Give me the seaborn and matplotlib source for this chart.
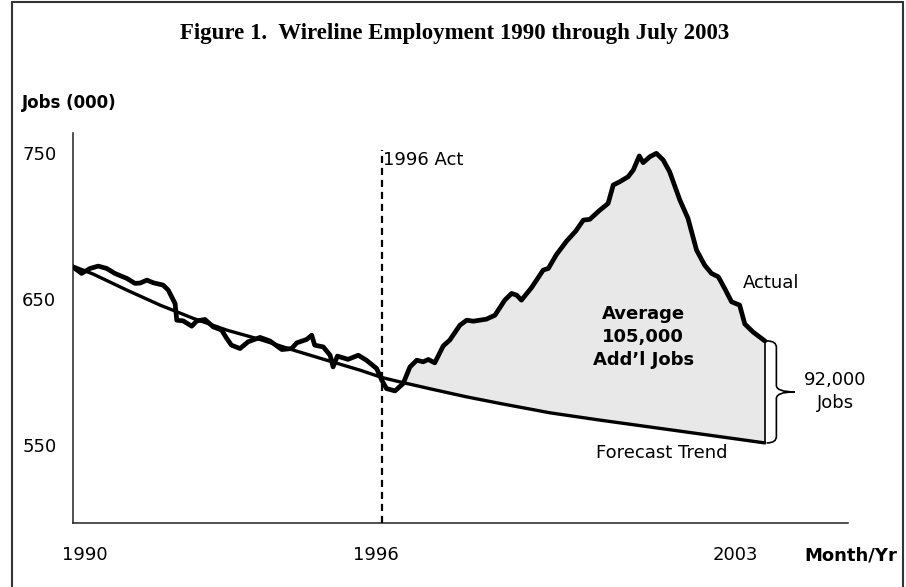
import numpy as np
import pandas as pd
import matplotlib
matplotlib.use("Agg")
import matplotlib.pyplot as plt
from matplotlib.path import Path
from matplotlib.patches import PathPatch
import seaborn as sns

# ---- data (months since Jan 1990, jobs in thousands) ----
actual_month = [0, 2.0, 4.0, 5.9, 7.9, 9.8, 12.6, 14.5, 15.7, 17.3, 18.8, 21.1, 22.3, 23.1,
                23.9, 24.3, 25.8, 27.8, 29.0, 30.9, 32.8, 34.8, 36.0, 37.1, 39.1, 41.0,
                43.8, 46.1, 48.9, 51.2, 52.4, 54.7, 55.9, 56.6, 58.6, 60.2, 60.9, 61.9,
                64.4, 66.8, 68.7, 71.1, 72.3, 73.4, 75.4, 77.3, 78.9, 80.5, 82.0, 83.2,
                84.7, 86.7, 88.2, 90.6, 92.2, 93.7, 96.8, 98.8, 101.1, 102.7, 103.9, 105.0,
                107.4, 110.1, 111.3, 113.2, 115.6, 117.7, 119.5, 121.0, 123.4, 125.3,
                126.5, 128.0, 130.0, 131.2, 132.6, 133.5, 135.1, 136.6, 138.2, 139.7,
                142.1, 144.0, 146.0, 147.9, 149.5, 151.1, 152.6, 154.2, 156.1, 157.3,
                159.2, 162.0]
actual_jobs = [672, 667.6, 671, 672.6, 671, 667.6, 664.2, 660.8, 661, 663, 661.2, 659.6, 656.2, 651.6,
               647, 635.6, 635.1, 631.5, 635.1, 636.1, 631.1, 628.8, 623.1, 618.5, 616.2, 620.8,
               623.8, 621.4, 615.5, 616.2, 620.1, 622.4, 625.3, 618.5, 617.3, 611.6, 603.6, 611,
               608.8, 611.6, 608.2, 602.5, 594.5, 588.8, 587.2, 592.2, 603.6, 608.2, 607.1, 608.7,
               606.4, 618, 621.9, 632.2, 635.6, 634.9, 636.3, 639, 649.3, 653.9, 652.7, 649.3,
               658, 669.9, 671, 680.5, 689.8, 696.5, 704.1, 704.6, 711, 715.5,
               728.1, 730.3, 733.8, 738.4, 748, 743.4, 747.5, 749.8, 745.2, 737.2,
               717.8, 705.3, 683.6, 673.3, 667.6, 665.3, 657.3, 648.2, 645.9, 633,
               627.6, 621.4]

trend_month = [0, 4.75, 12.6, 20.4, 28.2, 36, 43.8, 51.6, 59.4, 67.2, 72.3, 76.5, 84.3,
               92.2, 100, 111.7, 123.4, 135.1, 150.7, 162.0]
trend_jobs = [672.6, 667.1, 656.2, 645.9, 636.8, 628.8, 622.4, 615.1, 608.2, 601.4, 596.4,
              593.4, 588.2, 583.1, 578.6, 572.2, 567.2, 562.5, 556.2, 551.6]

act_month = 72.3          # 1996 Telecom Act
fill_start = 77.0         # where actual crosses back above trend
tick_pos = [2.8, 70.9, 155.0]
tick_labels = ["1990", "1996", "2003"]
y_ticks = [750, 650, 550]

# ---- figure ----
sns.set_style("white")
plt.rcParams["font.family"] = ["DejaVu Sans"]
plt.rcParams["text.color"] = "black"
plt.rcParams["xtick.color"] = "black"
plt.rcParams["ytick.color"] = "black"

W, H = 906, 587
fig = plt.figure(figsize=(W / 100, H / 100), dpi=100)
ax = fig.add_axes([73 / W, 1 - 522.7 / H, (847.7 - 73) / W, (522.7 - 133) / H])

am = np.array(actual_month); av = np.array(actual_jobs)
tm = np.array(trend_month); tv = np.array(trend_jobs)

# shaded area between actual and trend after the Act
sel_a = am >= fill_start
sel_t = tm >= fill_start - 1
ax.fill(np.concatenate([am[sel_a], tm[sel_t][::-1]]),
        np.concatenate([av[sel_a], tv[sel_t][::-1]]),
        color="#e8e8e8", lw=0, zorder=1)
ax.vlines(am[-1], tv[-1], av[-1], color="black", lw=1.2, zorder=2)

df_a = pd.DataFrame({"month": am, "jobs": av})
df_t = pd.DataFrame({"month": tm, "jobs": tv})
sns.lineplot(data=df_t, x="month", y="jobs", ax=ax, color="black", lw=2.4,
             estimator=None, sort=False, zorder=3)
sns.lineplot(data=df_a, x="month", y="jobs", ax=ax, color="black", lw=3.4,
             estimator=None, sort=False, zorder=4, solid_joinstyle="round")

ax.set_xlim(0, 181.4)
ax.set_ylim(497, 763.7)

# 1996 Act dashed line
ax.vlines(act_month, 497, 752, color="black", lw=1.6, linestyles=(0, (3.2, 2.2)), zorder=5)
ax.text(act_month + 0.3, 745, "1996 Act", fontsize=13, va="center", ha="left")

# annotations
ax.text(156.8, 661, "Actual", fontsize=13, va="center", ha="left")
ax.text(137.9, 544.5, "Forecast Trend", fontsize=13, va="center", ha="center")
ax.text(133.5, 624, "Average\n105,000\nAdd\u2019l Jobs", fontsize=13, fontweight="bold",
        va="center", ha="center", linespacing=1.35)
ax.text(178.5, 586.7, "92,000\nJobs", fontsize=13, va="center", ha="center", linespacing=1.4)

# curly brace between actual end and trend end
x0 = am[-1] + 0.5
xb = x0 + 2.2
xt = x0 + 6.5
ytop, ybot = av[-1], tv[-1]
ymid = (ytop + ybot) / 2
r = 4.5
verts = [(x0, ytop), (xb, ytop), (xb, ytop - r), (xb, ytop - r),
         (xb, ymid + r), (xb, ymid + r), (xb, ymid), (xt, ymid),
         (xb, ymid), (xb, ymid - r), (xb, ymid - r),
         (xb, ybot + r), (xb, ybot + r), (xb, ybot), (x0, ybot)]
codes = [Path.MOVETO, Path.CURVE3, Path.CURVE3, Path.LINETO,
         Path.LINETO, Path.LINETO, Path.CURVE3, Path.CURVE3,
         Path.CURVE3, Path.CURVE3, Path.LINETO,
         Path.LINETO, Path.LINETO, Path.CURVE3, Path.CURVE3]
ax.add_patch(PathPatch(Path(verts, codes), fill=False, lw=1.2, color="black", clip_on=False))

# axes styling
for s in ["top", "right"]:
    ax.spines[s].set_visible(False)
for s in ["left", "bottom"]:
    ax.spines[s].set_color("#222222")
    ax.spines[s].set_linewidth(1.1)
ax.set_xticks(tick_pos)
ax.set_xticklabels(tick_labels, fontsize=13)
ax.set_yticks(y_ticks)
ax.set_yticklabels([str(v) for v in y_ticks], fontsize=13)
ax.tick_params(axis="x", length=0, pad=17)
ax.tick_params(axis="y", length=0, pad=12)
ax.set_xlabel(""); ax.set_ylabel("")

# figure texts
fig.text(455 / W, 1 - 33 / H, "Figure 1.  Wireline Employment 1990 through July 2003",
         family=["Liberation Serif"], fontweight="bold", fontsize=16.5,
         ha="center", va="center")
fig.text(22 / W, 1 - 103 / H, "Jobs (000)", fontsize=12, fontweight="bold",
         ha="left", va="center")
fig.text(851 / W, 1 - 555 / H, "Month/Yr", fontsize=13, fontweight="bold",
         ha="center", va="center")

# frame around the figure
frame_kw = dict(color="#333333", lw=1.5, transform=fig.transFigure)
fig.add_artist(plt.Line2D([12 / W, 12 / W], [0, 1 - 2 / H], **frame_kw))
fig.add_artist(plt.Line2D([12 / W, 903 / W], [1 - 2 / H, 1 - 2 / H], **frame_kw))
fig.add_artist(plt.Line2D([903 / W, 903 / W], [0, 1 - 2 / H], **frame_kw))

fig.savefig("out.png", dpi=100)
